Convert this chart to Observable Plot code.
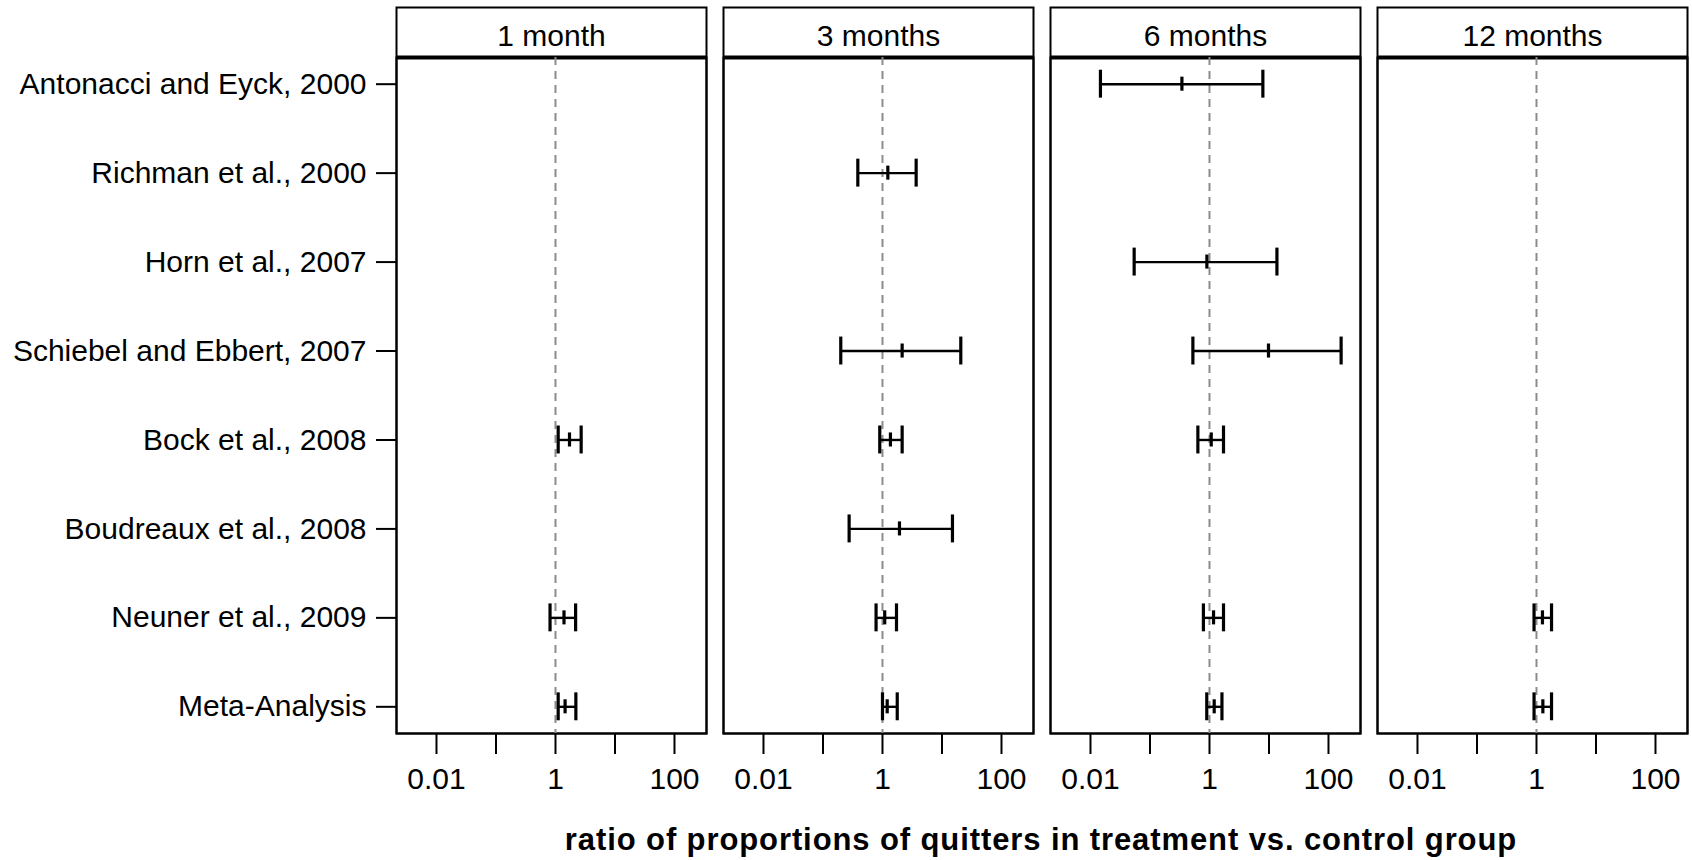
<!DOCTYPE html>
<html><head><meta charset="utf-8">
<script src="https://cdn.jsdelivr.net/npm/d3@7"></script>
<script src="https://cdn.jsdelivr.net/npm/@observablehq/plot@0.6"></script>
<style>
body{margin:0;background:#fff;}
#wrap{position:relative;width:1692px;height:860px;font-family:"Liberation Sans",Arial,sans-serif;background:#fff;}
#xtitle{position:absolute;left:395px;width:1292px;top:825px;text-align:center;font-weight:bold;font-size:31px;letter-spacing:0.9px;line-height:30px;color:#000;}
</style></head><body><div id="wrap"><div id="chart"></div><div id="xtitle">ratio of proportions of quitters in treatment vs. control group</div></div>
<script>
const periods = ["1 month", "3 months", "6 months", "12 months"];
const studies = ["Antonacci and Eyck, 2000", "Richman et al., 2000", "Horn et al., 2007", "Schiebel and Ebbert, 2007", "Bock et al., 2008", "Boudreaux et al., 2008", "Neuner et al., 2009", "Meta-Analysis"];
const xTicks = [0.01, 0.1, 1, 10, 100];
const xTickLabels = ["0.01", "", "1", "", "100"];

const rowPeriod = ["1 month", "1 month", "1 month",
  "3 months", "3 months", "3 months", "3 months", "3 months", "3 months",
  "6 months", "6 months", "6 months", "6 months", "6 months", "6 months",
  "12 months", "12 months"];
const rowStudy = ["Bock et al., 2008", "Neuner et al., 2009", "Meta-Analysis",
  "Richman et al., 2000", "Schiebel and Ebbert, 2007", "Bock et al., 2008", "Boudreaux et al., 2008", "Neuner et al., 2009", "Meta-Analysis",
  "Antonacci and Eyck, 2000", "Horn et al., 2007", "Schiebel and Ebbert, 2007", "Bock et al., 2008", "Neuner et al., 2009", "Meta-Analysis",
  "Neuner et al., 2009", "Meta-Analysis"];
const estimate = [1.72, 1.39, 1.45,
  1.23, 2.14, 1.36, 1.93, 1.09, 1.2,
  0.344, 0.904, 9.81, 1.07, 1.17, 1.2,
  1.26, 1.28];
const lower = [1.11, 0.81, 1.11,
  0.385, 0.199, 0.90, 0.275, 0.78, 1.0,
  0.0147, 0.0542, 0.526, 0.638, 0.79, 0.90,
  0.91, 0.91];
const upper = [2.70, 2.18, 2.2,
  3.68, 20.7, 2.14, 15.0, 1.72, 1.77,
  7.89, 13.6, 163, 1.72, 1.72, 1.62,
  1.79, 1.79];

const rows = rowStudy.map((s, i) => ({
  period: rowPeriod[i], study: s, idx: studies.indexOf(s) + 1,
  est: estimate[i], lo: lower[i], hi: upper[i]
}));

const capH = 0.157, midH = 0.079;
const yLo = 0.7, yHi = studies.length + 0.3;

const plot = Plot.plot({
  width: 1692, height: 805,
  marginLeft: 395, marginRight: 5, marginTop: 57, marginBottom: 72,
  style: {fontFamily: '"Liberation Sans", Arial, sans-serif', fontSize: "28px", color: "black", background: "white", overflow: "visible"},
  fx: {domain: periods, paddingInner: 0.053, paddingOuter: 0, axis: null, label: null},
  x: {type: "log", domain: [Math.pow(10, -2.672), Math.pow(10, 2.538)]},
  y: {domain: [yLo, yHi], reverse: true},
  marks: [
    Plot.frame({insetTop: -50, stroke: "black", strokeWidth: 2}),
    Plot.frame({stroke: "black", strokeWidth: 2}),
    Plot.ruleY([yLo], {stroke: "black", strokeWidth: 4}),
    Plot.ruleX([1], {stroke: "#8c8c8c", strokeWidth: 2, strokeDasharray: "8,6"}),
    Plot.text(periods, {fx: d => d, text: d => d, frameAnchor: "top", dy: -33, fontSize: 30, fill: "black"}),
    Plot.ruleY(rows, {fx: "period", y: "idx", x1: "lo", x2: "hi", stroke: "black", strokeWidth: 2.4}),
    Plot.ruleX(rows, {fx: "period", x: "lo", y1: d => d.idx - capH, y2: d => d.idx + capH, stroke: "black", strokeWidth: 3.2}),
    Plot.ruleX(rows, {fx: "period", x: "hi", y1: d => d.idx - capH, y2: d => d.idx + capH, stroke: "black", strokeWidth: 3.2}),
    Plot.ruleX(rows, {fx: "period", x: "est", y1: d => d.idx - midH, y2: d => d.idx + midH, stroke: "black", strokeWidth: 3.2}),
    Plot.axisX({ticks: xTicks, tickFormat: d => xTickLabels[xTicks.indexOf(d)], tickSize: 21, tickPadding: 13, strokeWidth: 2, fontSize: 30, label: null, style: {letterSpacing: "1.5px"}}),
    Plot.axisY({ticks: d3.range(1, studies.length + 1), tickFormat: i => studies[i - 1], tickSize: 20, tickPadding: 10, strokeWidth: 2, fontSize: 30, label: null})
  ]
});
document.getElementById("chart").appendChild(plot);
</script>
</body></html>
